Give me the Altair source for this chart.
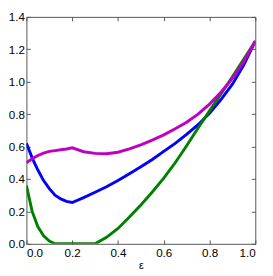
import altair as alt
import pandas as pd

eps = [0.0, 0.025, 0.05, 0.075, 0.1, 0.125, 0.15, 0.175, 0.2, 0.25, 0.3, 0.35, 0.4,
       0.45, 0.5, 0.55, 0.6, 0.65, 0.7, 0.75, 0.8, 0.85, 0.9, 0.95, 1.0]
blue = [0.62, 0.53, 0.455, 0.39, 0.34, 0.30, 0.277, 0.262, 0.255, 0.285, 0.318, 0.352, 0.39,
        0.432, 0.475, 0.52, 0.57, 0.62, 0.675, 0.735, 0.805, 0.89, 0.985, 1.105, 1.25]
green = [0.36, 0.2, 0.105, 0.05, 0.017, 0.0, 0.0, 0.0, 0.0, 0.0, 0.0, 0.04, 0.095,
         0.165, 0.24, 0.32, 0.405, 0.5, 0.605, 0.715, 0.82, 0.925, 1.03, 1.14, 1.25]
magenta = [0.5, 0.525, 0.545, 0.56, 0.57, 0.575, 0.58, 0.585, 0.592, 0.568, 0.558, 0.556, 0.565,
           0.585, 0.61, 0.64, 0.672, 0.71, 0.75, 0.8, 0.862, 0.935, 1.02, 1.125, 1.25]

x_ticks = [0.0, 0.2, 0.4, 0.6, 0.8, 1.0]
y_ticks = [0.0, 0.2, 0.4, 0.6, 0.8, 1.0, 1.2, 1.4]

df = pd.DataFrame({"eps": eps, "blue": blue, "green": green, "magenta": magenta})

W, H = 236, 234
FONT = "Liberation Sans"
FRAME = "#555555"

xs = alt.Scale(domain=[0, 1], nice=False, zero=False)
ys = alt.Scale(domain=[0, 1.4], nice=False, zero=False)

main_x = alt.Axis(values=x_ticks, format=".1f", ticks=False, tickSize=0, domain=False, grid=False,
                  labelFont=FONT, labelFontSize=12, labelColor="black", labelPadding=4,
                  title="ε", titleFont=FONT, titleFontSize=11, titleFontWeight="normal",
                  titleColor="black", titlePadding=1)
main_y = alt.Axis(values=y_ticks, format=".1f", ticks=False, tickSize=0, domain=False, grid=False,
                  labelFont=FONT, labelFontSize=12, labelColor="black", labelPadding=2,
                  title=None)

base = alt.Chart(df)

def line(col, color, first=False):
    return base.mark_line(color=color, strokeWidth=3, clip=True).encode(
        x=alt.X("eps:Q", scale=xs, axis=main_x if first else None),
        y=alt.Y(f"{col}:Q", scale=ys, axis=main_y if first else None),
    )

def tick_layer(xorient, yorient):
    return base.mark_line(opacity=0).encode(
        x=alt.X("eps:Q", scale=xs, axis=alt.Axis(orient=xorient, offset=-H, values=x_ticks,
                                                  labels=False, domain=False, grid=False,
                                                  ticks=True, tickSize=4, tickColor=FRAME,
                                                  title=None)),
        y=alt.Y("blue:Q", scale=ys, axis=alt.Axis(orient=yorient, offset=-W, values=y_ticks,
                                                   labels=False, domain=False, grid=False,
                                                   ticks=True, tickSize=4, tickColor=FRAME,
                                                   title=None)),
    )

chart = alt.layer(
    line("blue", "#0000ff", first=True),
    line("green", "#008000"),
    line("magenta", "#bf00bf"),
    tick_layer("top", "right"),
    tick_layer("bottom", "left"),
).resolve_axis(x="independent", y="independent").properties(
    width=W, height=H,
    autosize=alt.AutoSizeParams(type="none"),
    padding={"left": 19, "top": 5, "right": 10, "bottom": 28},
    background="white",
).configure_view(stroke=FRAME, strokeWidth=1)

chart.save("out.html", embed_options={"renderer": "svg", "actions": False})
